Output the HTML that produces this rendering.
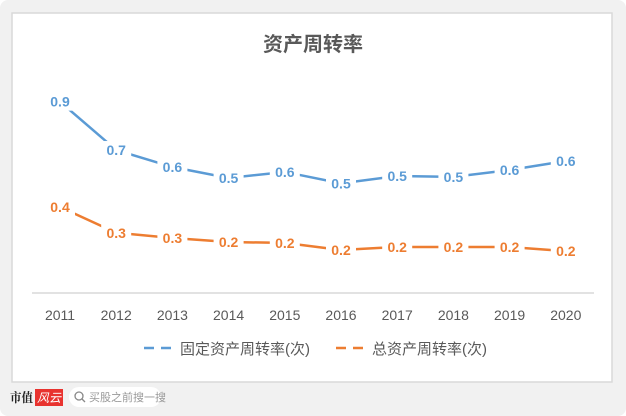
<!DOCTYPE html>
<html><head><meta charset="utf-8"><style>
html,body{margin:0;padding:0;width:626px;height:416px;overflow:hidden;background:#fff}
body{font-family:"Liberation Sans","Noto Sans CJK SC",sans-serif}
</style></head><body>
<svg id="chart" width="626" height="416" xmlns="http://www.w3.org/2000/svg" font-family="Liberation Sans, Noto Sans CJK SC, sans-serif">
<rect x="0" y="0" width="626" height="416" rx="8" fill="#f1f1f1"/>
<rect x="12" y="13" width="600" height="369" fill="#fff" stroke="#d9d9d9" stroke-width="1.5"/>
<text x="313" y="51" text-anchor="middle" font-size="20" font-weight="bold" fill="#595959">资产周转率</text>
<line x1="32" y1="293" x2="594" y2="293" stroke="#d9d9d9" stroke-width="1.5"/>
<g id="xlabels"></g>
<g id="series"></g>
<g>
<g>
<line x1="144" y1="348" x2="178" y2="348" stroke="#5b9bd5" stroke-width="2.5" stroke-dasharray="10,7"/>
<text x="180" y="354" font-size="15" fill="#595959">固定资产周转率(次)</text></g>
<g>
<line x1="336" y1="348" x2="370" y2="348" stroke="#ed7d31" stroke-width="2.5" stroke-dasharray="10,7"/>
<text x="372" y="354" font-size="15" fill="#595959">总资产周转率(次)</text></g>
</g>
<text x="10" y="402" font-size="12.5" textLength="23" lengthAdjust="spacingAndGlyphs" font-weight="bold" fill="#222" font-family="Liberation Serif, Noto Serif CJK SC, serif">市值</text>
<rect x="35" y="389" width="28" height="17" fill="#e8332f"/>
<text x="49" y="402" font-size="12" fill="#fff" text-anchor="middle" font-style="italic">风云</text>
<rect x="69" y="387" width="92" height="20" rx="10" fill="#fff"/>
<circle cx="79" cy="396" r="4" fill="none" stroke="#888" stroke-width="1.3"/>
<line x1="82" y1="399" x2="85" y2="402" stroke="#888" stroke-width="1.3"/>
<text x="89" y="401" font-size="11" fill="#999">买股之前搜一搜</text>
</svg>
<script>
const years=["2011","2012","2013","2014","2015","2016","2017","2018","2019","2020"];
const fixedTurnover=[0.89,0.665,0.586,0.535,0.563,0.51,0.544,0.54,0.572,0.614];
const totalTurnover=[0.4,0.28,0.256,0.237,0.233,0.2,0.214,0.214,0.214,0.195];
const NS="http://www.w3.org/2000/svg";
function xPos(i){return 60+i*56.2;}
function yPos(v){return 293-v*215;}
const xl=document.getElementById('xlabels');
years.forEach((y,i)=>{
 const t=document.createElementNS(NS,'text');
 
 
 t.setAttribute('x',xPos(i));t.setAttribute('y',320);
 t.setAttribute('text-anchor','middle');t.setAttribute('font-size','14');t.setAttribute('fill','#595959');
 t.textContent=y;xl.appendChild(t);
});
const sg=document.getElementById('series');
function draw(vals,color,name){
 const g=document.createElementNS(NS,'g');
 
 
 const p=document.createElementNS(NS,'polyline');
 
 
 p.setAttribute('points',vals.map((v,i)=>xPos(i)+','+yPos(v)).join(' '));
 p.setAttribute('fill','none');p.setAttribute('stroke',color);p.setAttribute('stroke-width','2.5');
 g.appendChild(p);
 vals.forEach((v,i)=>{
  const r=document.createElementNS(NS,'rect');
  r.setAttribute('x',xPos(i)-15);r.setAttribute('y',yPos(v)-9);r.setAttribute('width',30);r.setAttribute('height',18);r.setAttribute('fill','#fff');
  g.appendChild(r);
  const t=document.createElementNS(NS,'text');
  
  
  t.setAttribute('x',xPos(i));t.setAttribute('y',yPos(v)+5);
  t.setAttribute('text-anchor','middle');t.setAttribute('font-size','14');t.setAttribute('font-weight','bold');t.setAttribute('fill',color);
  t.textContent=v.toFixed(1);g.appendChild(t);
 });
 sg.appendChild(g);
}
draw(fixedTurnover,'#5b9bd5','series-fixed-asset');
draw(totalTurnover,'#ed7d31','series-total-asset');
</script>
</body></html>
